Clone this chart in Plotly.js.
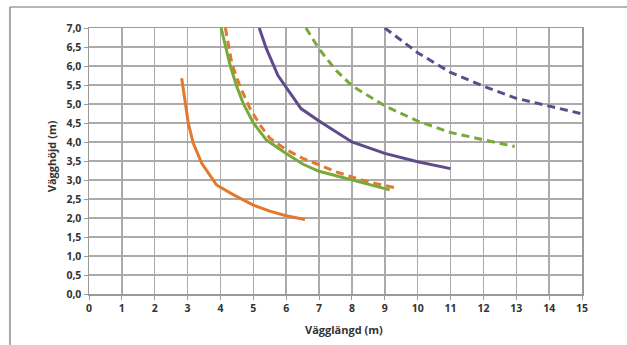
<!DOCTYPE html>
<html>
<head>
<meta charset="utf-8">
<script src="https://cdn.plot.ly/plotly-3.0.1.min.js"></script>
<style>html,body{margin:0;padding:0;background:#fff;}#chart{width:627px;height:345px;}</style>
</head>
<body>
<div id="chart"></div>
<script>
// Orange solid
const orangeSolidX = [2.82, 2.92, 3.02, 3.17, 3.43, 3.88, 4.4, 5.0, 5.5, 6.0, 6.57];
const orangeSolidY = [5.68, 5.02, 4.5, 3.97, 3.44, 2.87, 2.61, 2.34, 2.18, 2.06, 1.96];
// Green solid
const greenSolidX = [4.02, 4.3, 4.5, 4.7, 5.0, 5.4, 6.0, 6.5, 7.0, 8.0, 9.15];
const greenSolidY = [7.0, 6.0, 5.45, 5.0, 4.5, 4.05, 3.7, 3.42, 3.23, 3.0, 2.74];
// Orange dashed
const orangeDashX = [4.15, 4.35, 4.6, 4.9, 5.2, 5.5, 6.0, 6.5, 7.0, 7.5, 8.0, 8.5, 9.3];
const orangeDashY = [7.0, 6.05, 5.45, 4.88, 4.45, 4.1, 3.8, 3.57, 3.4, 3.22, 3.08, 2.95, 2.8];
// Purple solid
const purpleSolidX = [5.18, 5.4, 5.75, 6.1, 6.45, 7.0, 8.0, 9.0, 10.0, 11.0];
const purpleSolidY = [7.0, 6.45, 5.75, 5.3, 4.88, 4.55, 4.0, 3.7, 3.48, 3.3];
// Green dashed
const greenDashX = [6.6, 7.0, 7.5, 8.0, 9.0, 10.0, 11.0, 12.0, 12.95];
const greenDashY = [7.0, 6.45, 5.9, 5.48, 4.95, 4.55, 4.25, 4.05, 3.88];
// Purple dashed
const purpleDashX = [9.0, 10.0, 11.0, 12.0, 13.0, 14.0, 15.0];
const purpleDashY = [7.0, 6.35, 5.83, 5.47, 5.15, 4.95, 4.74];

const xTicks = [0,1,2,3,4,5,6,7,8,9,10,11,12,13,14,15];
const yTicks = [0,0.5,1,1.5,2,2.5,3,3.5,4,4.5,5,5.5,6,6.5,7];
const xTitle = 'Vägglängd (m)';
const yTitle = 'Vägghöjd (m)';

const ORANGE = '#e2792d', GREEN = '#79a83b', PURPLE = '#5f4a8b';
const DASH = '8px,5px';

function tr(x, y, color, dash) {
  return {x: x, y: y, type: 'scatter', mode: 'lines',
    line: {color: color, width: 3, dash: dash || 'solid', shape: 'linear'},
    hoverinfo: 'none', showlegend: false, cliponaxis: true};
}

const data = [
  tr(orangeSolidX, orangeSolidY, ORANGE),
  tr(purpleSolidX, purpleSolidY, PURPLE),
  tr(greenDashX, greenDashY, GREEN, DASH),
  tr(purpleDashX, purpleDashY, PURPLE, DASH),
  tr(orangeDashX, orangeDashY, ORANGE, DASH),
  tr(greenSolidX, greenSolidY, GREEN)
];

const FAM = 'Open Sans, sans-serif';
const tickFont = {family: FAM, size: 10.5, color: '#333333', weight: 700};
const titleFont = {family: FAM, size: 11, color: '#333333', weight: 700};

const layout = {
  width: 627, height: 345,
  margin: {l: 89, r: 45, t: 28, b: 51, pad: 0},
  paper_bgcolor: '#ffffff', plot_bgcolor: '#ffffff',
  separators: ', ',
  showlegend: false,
  xaxis: {
    range: [0, 15], tickvals: xTicks, ticktext: xTicks.map(String),
    showgrid: true, gridcolor: '#ababab', gridwidth: 1.5,
    zeroline: false, showline: true, linecolor: '#9a9a9a', linewidth: 1.5, mirror: true,
    ticks: 'outside', ticklen: 4, tickcolor: '#9a9a9a', tickwidth: 1,
    tickfont: tickFont, fixedrange: true
  },
  yaxis: {
    range: [0, 7], tickvals: yTicks, tickformat: '.1f',
    showgrid: true, gridcolor: '#ababab', gridwidth: 1.5,
    zeroline: false, showline: true, linecolor: '#9a9a9a', linewidth: 1.5, mirror: true,
    ticks: 'outside', ticklen: 4, tickcolor: '#9a9a9a', tickwidth: 1,
    tickfont: tickFont, fixedrange: true
  },
  annotations: [
    {text: xTitle, xref: 'paper', yref: 'paper', x: 0.518, y: -0.133, xanchor: 'center', yanchor: 'middle', showarrow: false, font: titleFont},
    {text: yTitle, xref: 'paper', yref: 'paper', x: -0.077, y: 0.518, xanchor: 'center', yanchor: 'middle', showarrow: false, textangle: -90, font: titleFont}
  ],
  shapes: [
    {type: 'line', xref: 'paper', yref: 'paper', x0: -0.1603, x1: 1.2, y0: 1.0789, y1: 1.0789, line: {color: '#7d6f60', width: 1.2}},
    {type: 'line', xref: 'paper', yref: 'paper', x0: -0.1603, x1: -0.1603, y0: 1.0789, y1: -0.25, line: {color: '#7d6f60', width: 1.2}}
  ]
};

Plotly.newPlot('chart', data, layout, {staticPlot: true, displayModeBar: false});
</script>
</body>
</html>
